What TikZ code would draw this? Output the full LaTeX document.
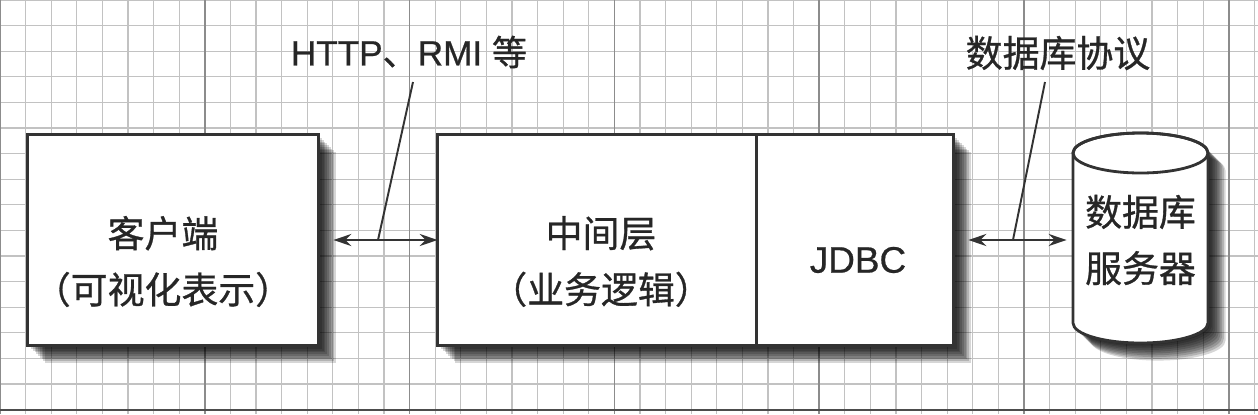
\documentclass[tikz,border=0pt]{standalone}
\usepackage{fontspec}
\setmainfont[FakeBold=0.6]{Liberation Sans}
\newfontfamily\cjk[FakeBold=0.8]{Noto Sans CJK SC}
\usetikzlibrary{arrows.meta,calc,positioning}

\tikzset{
  gridline/.style={draw=black!24, line width=0.7pt},
  majorline/.style={draw=black!45, line width=0.9pt},
  shadelayer/.style={fill=black, opacity=.16},
  frame/.style={minimum height=4.2cm, inner sep=0pt},
  boxline/.style={draw=black!80, line width=1.6pt, fill=white},
  txt/.style={font=\cjk\fontsize{21}{32}\selectfont, align=center, text=black!85},
  lbl/.style={font=\fontsize{20}{24}\selectfont, text=black!85},
  link/.style={line width=1.3pt, draw=black!80, {Stealth[length=0.36cm,width=0.24cm]}-{Stealth[length=0.36cm,width=0.24cm]}},
  pointer/.style={line width=1.1pt, draw=black!80}
}

\begin{document}
\begin{tikzpicture}[x=0.02cm,y=0.02cm]
	\useasboundingbox (0,0) rectangle (1258,414);
	\fill[white] (0,0) rectangle (1258,414);
	% grid paper
	\foreach \i in {0,...,49}
		\draw[gridline] (\i*25.6,0) -- (\i*25.6,414);
	\foreach \j in {0,...,16}
		\draw[gridline] (0,414-\j*25.6) -- (1258,414-\j*25.6);
	\foreach \i in {0,8,...,48}
		\draw[majorline] (\i*25.6,0) -- (\i*25.6,414);
	\draw[draw=black!70, line width=1.5pt] (0,4) -- (1258,4);

	% boxes
	\node[frame, minimum width=5.8cm] (client) at (173,174) {};
	\node[frame, minimum width=10.3cm] (server) at (695.5,174) {};
	\foreach \s in {1,2,...,10} {
		\fill[shadelayer] ([shift={(\s pt,-\s pt)}]client.south west) rectangle ([shift={(\s pt,-\s pt)}]client.north east);
		\fill[shadelayer] ([shift={(\s pt,-\s pt)}]server.south west) rectangle ([shift={(\s pt,-\s pt)}]server.north east);
	}
	\filldraw[boxline] (client.south west) rectangle (client.north east);
	\filldraw[boxline] (server.south west) rectangle (server.north east);
	\draw[line width=1.6pt, draw=black!80] ([xshift=6.38cm]server.north west) -- ([xshift=6.38cm]server.south west);

	% database barrel
	\foreach \s in {1,2,...,10}
		\fill[shadelayer, shift={(\s pt,-\s pt)}] (1073,261) -- (1073,91) arc[start angle=180, end angle=360, x radius=1.35cm, y radius=0.4cm]
			-- (1208,261) arc[start angle=0, end angle=180, x radius=1.35cm, y radius=0.4cm] -- cycle;
	\filldraw[boxline] (1073,261) -- (1073,91) arc[start angle=180, end angle=360, x radius=1.35cm, y radius=0.4cm]
		-- (1208,261) arc[start angle=0, end angle=180, x radius=1.35cm, y radius=0.4cm] -- cycle;
	\draw[line width=1.6pt, draw=black!80] (1140.5,261) ellipse[x radius=1.35cm, y radius=0.4cm];

	% texts
	\node[txt] (clienttxt) at (163,152.5) {客户端\\（可视化表示）};
	\node[txt] (midtxt) at (601,152.5) {中间层\\（业务逻辑）};
	\node[lbl, font=\fontsize{21}{24}\selectfont] (jdbc) at (858,154) {JDBC};
	\node[txt, minimum width=2.7cm, minimum height=4.2cm] (db) at (1140.5,174) {数据库\\服务器};

	% links
	\draw[link, shorten <=0.3cm] (client.east) -- (server.west);
	\draw[link, shorten <=0.3cm, shorten >=0.12cm] (server.east) -- (db.west);

	% protocol labels
	\node[lbl] (proto) at (409,362) {HTTP{\cjk 、}RMI {\cjk 等}};
	\node[txt] (dbproto) at (1058,361) {数据库协议};
	\coordinate (p1) at ($(client.east)!.5!(server.west)$);
	\coordinate (p2) at ($(server.east)!.5!(db.west)$);
	\coordinate (q1) at (413,332);
	\coordinate (q2) at (1045,332);
	\draw[pointer] (p1) -- (q1);
	\draw[pointer] (p2) -- (q2);
\end{tikzpicture}
\end{document}
